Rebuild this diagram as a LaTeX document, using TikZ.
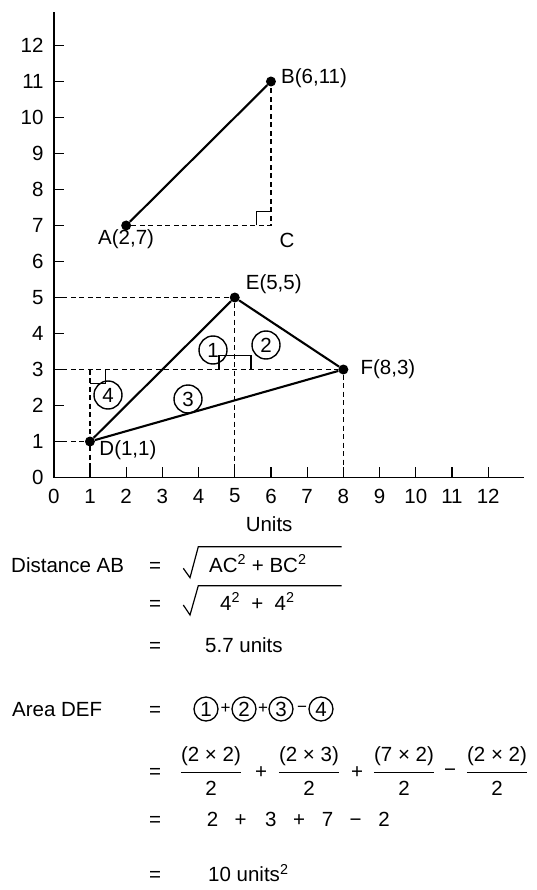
\documentclass[tikz,border=0pt]{standalone}
\usepackage{fontspec}
\setmainfont{Liberation Sans}
\begin{document}
\begin{tikzpicture}[x=1pt,y=-1pt,
  lbl/.style={font=\fontsize{20.5}{24}\selectfont, inner sep=0pt},
  smallop/.style={font=\fontsize{17}{20}\selectfont, inner sep=0pt},
  axisline/.style={line width=1.7pt},
  tickline/.style={line width=1.2pt},
  guide/.style={line width=1.1pt, dash pattern=on 5pt off 3.5pt},
  seg/.style={line width=2.1pt},
  dot/.style={circle, fill=black, inner sep=0pt, minimum size=10pt},
  ring/.style={circle, draw, line width=1.4pt, minimum size=28pt, inner sep=0pt, font=\fontsize{20.5}{24}\selectfont},
  sring/.style={circle, draw, line width=1.3pt, minimum size=24pt, inner sep=0pt, font=\fontsize{20.5}{24}\selectfont},
  marker/.style={line width=1.1pt},
  radical/.style={line width=1.2pt, line join=miter}]
\useasboundingbox (0,0) rectangle (536,890);
\fill[white] (0,0) rectangle (536,890);

% ---------------- graph ----------------
\begin{scope}[shift={(53.75,477.5)}, x=36.2pt, y=36pt]
  \coordinate (O) at (0,0);
  \coordinate (Ytop) at (0,12.92);
  \coordinate (Xend) at (13,0);
  \draw[axisline] (Ytop) -- (O) -- (Xend);
  \foreach \k in {1,...,12} {
    \draw[tickline] (\k,0) -- ++(0pt,11pt);
    \draw[tickline] (0,\k) -- ++(10pt,0pt);
  }
  \foreach \k in {0,...,12} {
    \node[lbl, anchor=east] at ([xshift=-10pt]0,\k) {\k};
    \node[lbl] at ([yshift=-18.5pt]\k,0) {\k};
  }
  \node[lbl] (units) at ([yshift=-47pt]5.95,0) {Units};

  % points
  \node[dot] (A) at (2,7) {};
  \node[dot] (B) at (6,11) {};
  \coordinate (C) at (6,7);
  \node[dot] (D) at (1,1) {};
  \node[dot] (E) at (5,5) {};
  \node[dot] (F) at (8,3) {};

  \coordinate (Y5) at (0,5);
  \coordinate (Y3) at (0,3);
  \coordinate (Y1) at (0,1);
  \coordinate (X1) at (1,0);
  \coordinate (X5) at (5,0);
  \coordinate (X8) at (8,0);
  \coordinate (P13) at (1,3);

  % dashed guides
  \draw[guide] (A) -- (C) -- (B);
  \draw[guide] (Y5) -- (E) -- (X5);
  \draw[guide] (Y3) -- (F) -- (X8);
  \draw[guide] (Y1) -- (D);
  \draw[guide] (P13) -- (X1);

  % solid segments
  \draw[seg] (A) -- (B);
  \draw[seg] (D) -- (E) -- (F) -- (D);

  % right-angle markers
  \draw[marker] (5.6,7) -- (5.6,7.4) -- (6,7.4);
  \draw[marker] (1,2.6) -- (1.43,2.6) -- (1.43,3);
  \draw[marker] (4.565,3) -- (4.565,3.39) -- (5.45,3.39) -- (5.45,3);

  % point labels
  \node[lbl] (Alab) at ([yshift=-14pt]2,7) {A(2,7)};
  \node[lbl, anchor=west] (Blab) at ([xshift=10pt,yshift=3pt]6,11) {B(6,11)};
  \node[lbl] (Clab) at ([xshift=16pt,yshift=-14.5pt]6,7) {C};
  \node[lbl] (Elab) at ([xshift=39pt,yshift=13pt]5,5) {E(5,5)};
  \node[lbl, anchor=west] (Flab) at ([xshift=17pt]8,3) {F(8,3)};
  \node[lbl] (Dlab) at ([xshift=38pt,yshift=-8.5pt]1,1) {D(1,1)};
\end{scope}

% area numbers in graph
\node[ring] (r1) at (213,350) {1};
\node[ring] (r2) at (266,345) {2};
\node[ring] (r3) at (188,399) {3};
\node[ring] (r4) at (108,395) {4};

% ---------------- equations ----------------
% Distance AB
\node[lbl, anchor=base west] (dist) at (11,572) {Distance AB};
\node[lbl, anchor=base] (eq1) at (155,572) {=};
\draw[radical] (183.3,568.3) -- (190,577.7) -- (198.3,546.7) -- (341.7,546.7);
\node[lbl, anchor=base west] (rad1) at (209,572) {AC\textsuperscript{2} + BC\textsuperscript{2}};

\node[lbl, anchor=base] (eq2) at (155,610) {=};
\draw[radical] (183.3,605) -- (190,615) -- (198.3,585.7) -- (341.7,585.7);
\node[lbl, anchor=base west] (rad2) at (220,610) {4\textsuperscript{2}\hspace{0.55em}+\hspace{0.55em}4\textsuperscript{2}};

\node[lbl, anchor=base] (eq3) at (155,652) {=};
\node[lbl, anchor=base west] (res1) at (205,652) {5.7 units};

% Area DEF
\node[lbl, anchor=base west] (area) at (12,716) {Area DEF};
\node[lbl, anchor=base] (eq4) at (155,716) {=};
\node[sring] (c1) at (206,709) {1};
\node[smallop] (p1) at (225.5,709) {+};
\node[sring] (c2) at (244,709) {2};
\node[smallop] (p2) at (263,709) {+};
\node[sring] (c3) at (281,709) {3};
\node[smallop] (m1) at (302,709) {−};
\node[sring] (c4) at (321,709) {4};

% fractions
\node[lbl] (eq5) at (155,773) {=};
\foreach \cx/\num/\nm in {211/{(2 × 2)}/f1, 309/{(2 × 3)}/f2, 404/{(7 × 2)}/f3, 497/{(2 × 2)}/f4} {
  \node[lbl, anchor=base] (\nm n) at (\cx,761) {\num};
  \node[lbl, anchor=base] (\nm d) at (\cx,795) {2};
  \draw[line width=1pt] ([yshift=-11pt]\nm n.base west) -- ([yshift=-11pt]\nm n.base east);
}
\node[lbl] (p3) at (261,773) {+};
\node[lbl] (p4) at (357,773) {+};
\node[lbl] (m2) at (450,773) {−};

% 2 + 3 + 7 - 2
\node[lbl, anchor=base] (eq6) at (155,826.7) {=};
\node[lbl, anchor=base] (s1) at (212.5,826.7) {2};
\node[lbl, anchor=base] (s2) at (240.7,826.7) {+};
\node[lbl, anchor=base] (s3) at (270.8,826.7) {3};
\node[lbl, anchor=base] (s4) at (299,826.7) {+};
\node[lbl, anchor=base] (s5) at (327.5,826.7) {7};
\node[lbl, anchor=base] (s6) at (355.7,826.7) {−};
\node[lbl, anchor=base] (s7) at (384,826.7) {2};

% 10 units^2
\node[lbl, anchor=base] (eq7) at (155,881.7) {=};
\node[lbl, anchor=base west] (res2) at (208,881.7) {10 units\textsuperscript{2}};
\end{tikzpicture}
\end{document}
